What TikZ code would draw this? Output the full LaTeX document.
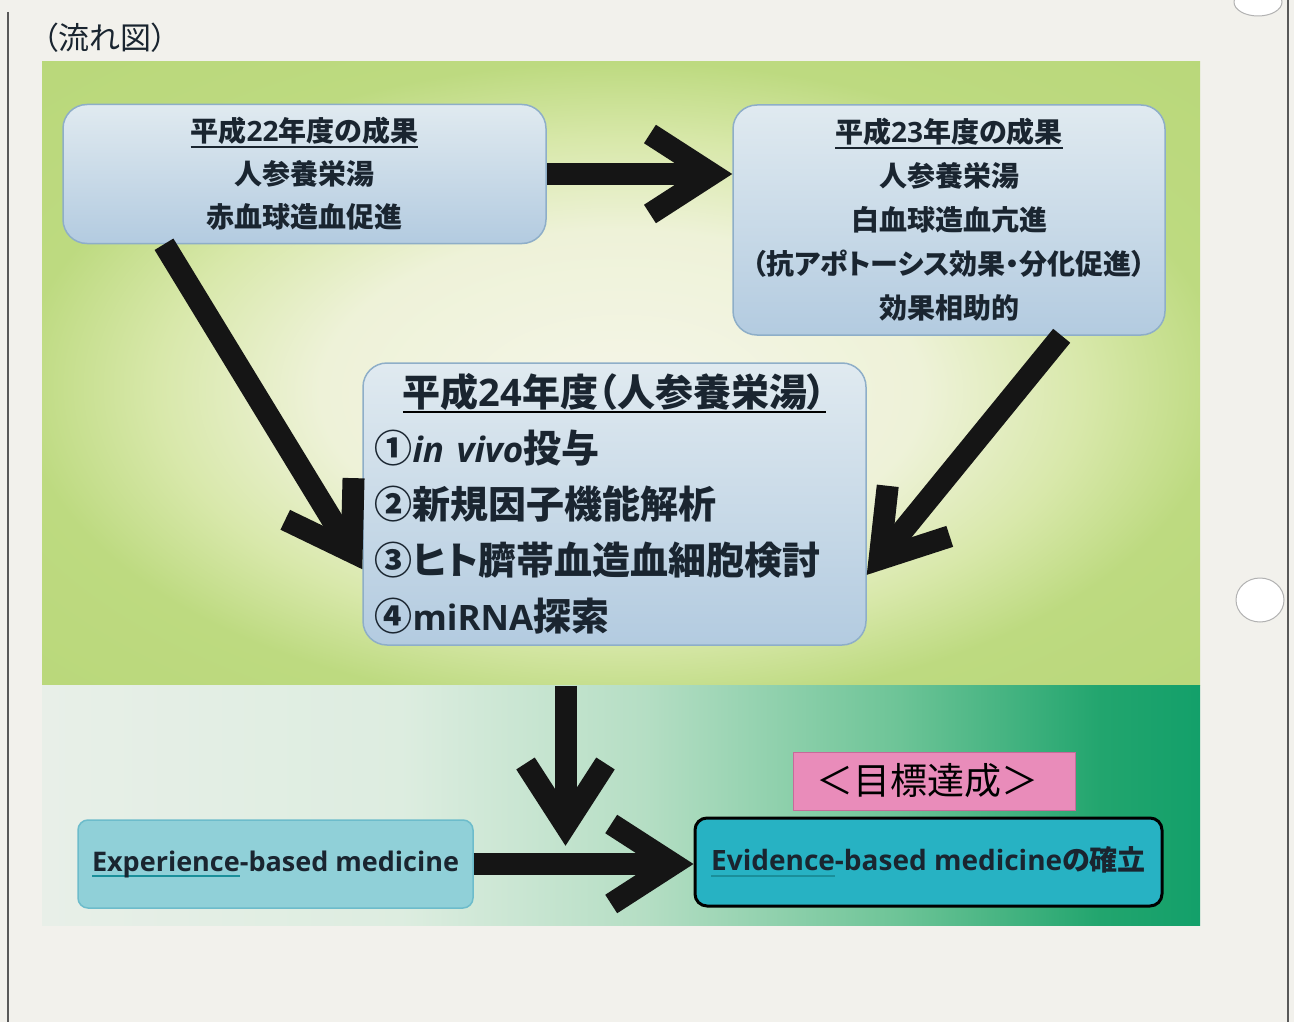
\documentclass[tikz,border=0pt]{standalone}
\usepackage{fontspec}
\setmainfont{Noto Sans CJK JP}[RawFeature=+palt]
\newfontfamily\jpfull{Noto Sans CJK JP}
\newfontfamily\osans{Open Sans}
\usetikzlibrary{arrows.meta,calc}
\definecolor{paper}{HTML}{F2F1EC}
\definecolor{ink}{HTML}{1A2530}
\definecolor{boxtop}{HTML}{E0EAF0}
\definecolor{boxbot}{HTML}{B3CBE0}
\definecolor{boxline}{HTML}{8EAEC8}
\definecolor{t0}{HTML}{F5F5E8}
\definecolor{t1}{HTML}{EEF2D8}
\definecolor{t2}{HTML}{D8E8AA}
\definecolor{t3}{HTML}{BDDA80}
\definecolor{t4}{HTML}{B4D572}
\definecolor{b0}{HTML}{E8EFE8}
\definecolor{b1}{HTML}{DDEDE0}
\definecolor{b2}{HTML}{B5DEC4}
\definecolor{b3}{HTML}{6DC497}
\definecolor{b4}{HTML}{22A56E}
\definecolor{b5}{HTML}{13A06A}
\definecolor{expfill}{HTML}{90D0D8}
\definecolor{expline}{HTML}{6DBCCB}
\definecolor{evfill}{HTML}{27B2C3}
\definecolor{pinkfill}{HTML}{E98CBA}
\definecolor{pinkline}{HTML}{C86A9A}
\definecolor{arrowc}{HTML}{151515}
\definecolor{ulteal}{HTML}{1A8F9A}
\pgfdeclareradialshading{topshade}{\pgfpoint{0bp}{-2bp}}{color(0bp)=(t0); color(13bp)=(t1); color(20bp)=(t2); color(26bp)=(t3); color(50bp)=(t4)}
\pgfdeclarehorizontalshading{botshade}{100bp}{color(0bp)=(b0); color(25bp)=(b0); color(40.5bp)=(b1); color(51bp)=(b2); color(62bp)=(b3); color(70.7bp)=(b4); color(75bp)=(b5); color(100bp)=(b5)}
\newcommand\la[1]{{\osans\bfseries #1}}
\newcommand\ulin[2][ink]{\setbox0\hbox{#2}\rlap{\color{#1}\rule[-6pt]{\wd0}{2pt}}\box0}
\begin{document}
\begin{tikzpicture}[x=1pt,y=-1pt,
  box/.style={draw=boxline, line width=1.5pt, rounded corners=24pt, top color=boxtop, bottom color=boxbot, text=ink, inner sep=0pt},
  arr/.style={draw=arrowc, line width=22pt, -{Straight Barb[length=62pt,width=80pt]}},
]
\fill[paper] (0,0) rectangle (1294,1022);
\useasboundingbox (0,0) rectangle (1294,1022);
\draw[gray!70!black, line width=1.5pt] (8,12) -- (8,1022);
\draw[gray!70!black, line width=1.5pt] (1288,0) -- (1288,1022);
\draw[fill=white, draw=gray!60, line width=1pt] (1258,2) ellipse [x radius=24pt, y radius=14pt];
\draw[fill=white, draw=gray!60, line width=1pt] (1260,600) ellipse [x radius=24pt, y radius=22pt];
\node[anchor=west, text=ink, inner sep=0pt, font=\fontsize{31pt}{33pt}\selectfont] (ttl) at (43,38) {（流れ図）};
% regions
\shade[shading=topshade] (42,62) rectangle (1200,685);
\shade[shading=botshade] (42,685) rectangle (1200,925);
% boxes
\node[box, minimum width=483pt, minimum height=139pt, align=center,
  font=\fontsize{28pt}{43pt}\selectfont\bfseries] (A) at (304.5,174)
  {\ulin{平成\la{22}年度の成果}\\人参養栄湯\\赤血球造血促進};
\node[box, minimum width=432pt, minimum height=230pt, align=center,
  font=\fontsize{28pt}{44pt}\selectfont\bfseries] (B) at (949,220)
  {\ulin{平成\la{23}年度の成果}\\人参養栄湯\\白血球造血亢進\\（抗アポトーシス効果・分化促進）\\効果相助的};
\node[box, minimum width=503pt, minimum height=282pt, align=left, text width=480pt,
  font=\fontsize{38pt}{56pt}\selectfont\bfseries] (C) at (614.5,504)
  {\makebox[\linewidth]{\ulin[black]{平成\la{24}年度（人参養栄湯）}}\\①{\osans\bfseries\itshape\fontsize{35pt}{56pt}\selectfont in vivo}投与\\②新規因子機能解析\\③ヒト臍帯血造血細胞検討\\④{\osans\bfseries\fontsize{35pt}{56pt}\selectfont miRNA}探索};
\node[draw=expline, line width=1.5pt, fill=expfill, rounded corners=10pt, text=ink,
  minimum width=395pt, minimum height=88pt, inner sep=0pt,
  font=\fontsize{27pt}{30pt}\selectfont] (E) at (275.5,864)
  {\la{\ulin[ulteal]{Experience}-based medicine}};
\node[draw=black, line width=3pt, fill=evfill, rounded corners=12pt, text=ink,
  minimum width=467pt, minimum height=88pt, inner sep=0pt,
  font=\fontsize{28pt}{30pt}\selectfont\bfseries] (V) at (928.5,862)
  {\la{\ulin[ulteal]{Evidence}-based medicine}の確立};
\node[draw=pinkline, line width=1pt, fill=pinkfill, text=black,
  minimum width=282pt, minimum height=58pt, inner sep=0pt,
  font=\jpfull\fontsize{37pt}{40pt}\selectfont] (P) at (934,781) {\hspace*{-14pt}＜目標達成＞};
% arrows
\draw[arr] (A.east) -- (A.east -| B.west);
\draw[arr] ($(A.south west)!0.21!(A.south east)$) -- ($(C.south west)!0.27!(C.north west)$);
\draw[arr] ($(B.south west)!0.76!(B.south east)$) -- ($(C.south east)!0.25!(C.north east)$);
\coordinate (d1) at ($(C.south)+(-49,40)$);
\coordinate (d2) at ($(d1)+(0,160)$);
\draw[arr] (d1) -- (d2);
\draw[arr] (E.east) -- (E.east -| V.west);
\end{tikzpicture}
\end{document}
